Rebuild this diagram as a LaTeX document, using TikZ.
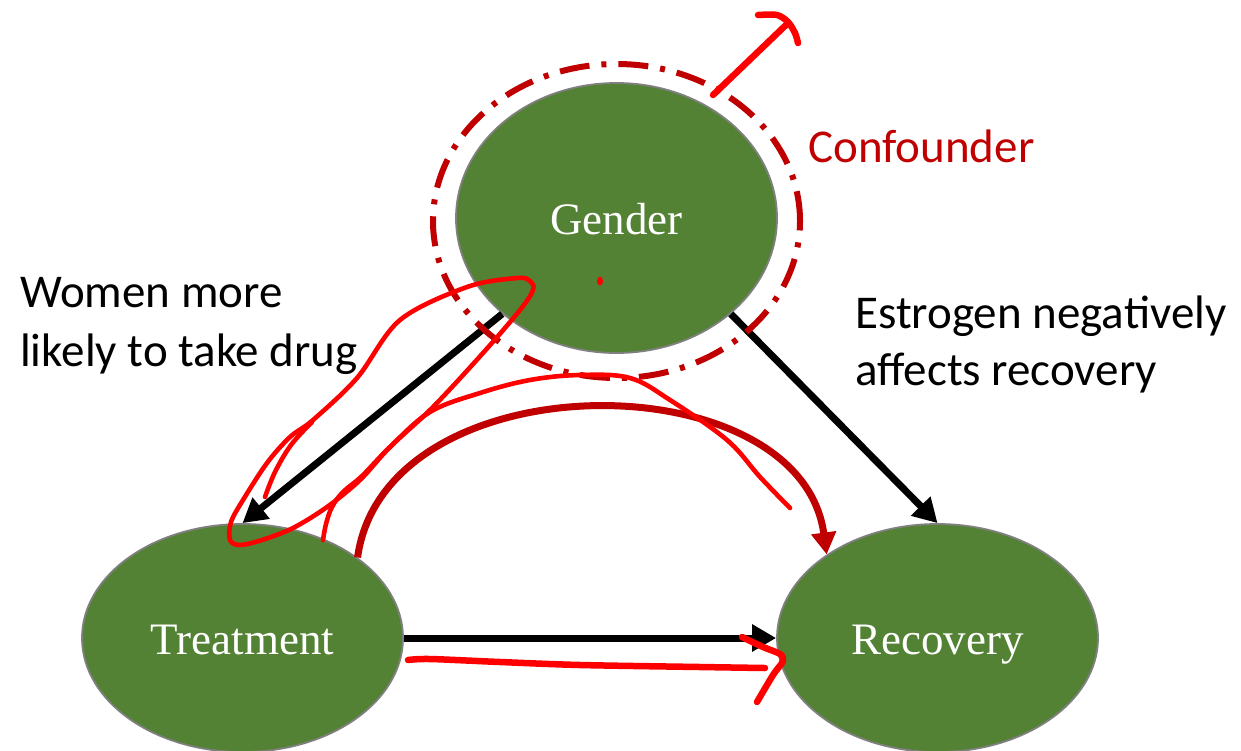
\documentclass[tikz,border=0pt]{standalone}
\usepackage{fontspec}
\setmainfont{Liberation Serif}
\newfontfamily\calib{Carlito}
\usetikzlibrary{shapes.geometric,arrows.meta}
\definecolor{nodegreen}{RGB}{84,130,53}
\definecolor{confred}{RGB}{192,0,0}
\definecolor{inkred}{RGB}{255,0,0}
\definecolor{edgegray}{RGB}{128,128,128}

\begin{document}
\begin{tikzpicture}[x=1pt,y=-1pt,
  var/.style={ellipse, fill=nodegreen, draw=edgegray, line width=1.8pt,
    text=white, font=\fontsize{45}{50}\selectfont,
    text height=32pt, text depth=0pt, inner sep=0pt, minimum width=321pt},
  note/.style={font=\calib\fontsize{47}{57}\selectfont, inner sep=0pt, anchor=base west},
  cause/.style={line width=7pt, -{Triangle[length=24pt,width=26pt]}},
  backdoor/.style={draw=confred, line width=7pt, -{Triangle[length=22pt,width=24pt]}},
  confring/.style={ellipse, draw=confred, line width=6pt,
    dash pattern=on 30pt off 12pt on 5pt off 12pt,
    minimum width=367pt, minimum height=314pt, inner sep=0pt},
  ink/.style={draw=inkred, line width=4.6pt, line cap=round, line join=round},
  thickink/.style={ink, line width=6.5pt}
]
\useasboundingbox (0,0) rectangle (1241,750);
\fill[white] (0,0) rectangle (1241,750);

% causal variables
\node[var, minimum height=270pt] (G) at (616.5,218) {Gender};
\node[var, minimum height=228pt] (T) at (242.5,638) {Treatment};
\node[var, minimum height=228pt] (R) at (937.5,638) {Recovery};

% causal edges
\draw[cause] (G.220) -- (T.90);
\draw[cause] (G.320) -- (R.90);
\draw[cause] (T.0) -- (R.180);

% backdoor path through the confounder
\draw[backdoor] (T.35) .. controls (385,359) and (800,359) .. (R.143);

% confounder ring
\node[confring] (conf) at (616.5,221) {};

% annotations
\node[note, text=confred] (cf) at (808,162) {Confounder};
\node[note] (w1) at (20,307) {Women more};
\node[note] (w2) at (20,366) {likely to take drug};
\node[note] (e1) at (855,328) {Estrogen negatively};
\node[note] (e2) at (855,385) {affects recovery};

% freehand ink: loop around the Gender -> Treatment edge
\draw[ink] plot[smooth cycle, tension=0.55] coordinates {
  (517,278) (467,287) (400,320) (357,378) (313,420) (290,437) (267,463)
  (243,500) (231,522) (230,540) (240,545) (262,540) (293,528) (327,507)
  (360,480) (390,447) (433,407) (483,353) (520,310) (533,290) (530,281)};
\draw[ink] plot[smooth, tension=0.6] coordinates {
  (265,497) (275,472) (291,445) (312,422)};

% freehand ink: path Treatment -> Gender -> Recovery
\draw[ink] plot[smooth, tension=0.6] coordinates {
  (323,540) (326,524) (332,507) (343,492) (362,476) (390,447) (430,412)
  (480,393) (530,380) (580,375) (630,378) (670,400) (727,440) (760,477) (790,508)};

% freehand ink: pointer to the confounder
\draw[thickink] (713,95) -- (787,24);
\draw[thickink] plot[smooth] coordinates {(758,15) (777,15) (788,22) (795,33) (798,43)};

% freehand ink: direct effect Treatment -> Recovery
\draw[thickink] plot[smooth] coordinates {
  (408,660) (430,659) (500,662) (580,665) (700,667) (765,668)};
\draw[thickink] plot[smooth] coordinates {
  (742,637) (763,647) (780,654) (783,661) (773,675) (757,702)};

% small ink dot
\fill[inkred] (600,281) ellipse [x radius=3pt, y radius=4.5pt];
\end{tikzpicture}
\end{document}
